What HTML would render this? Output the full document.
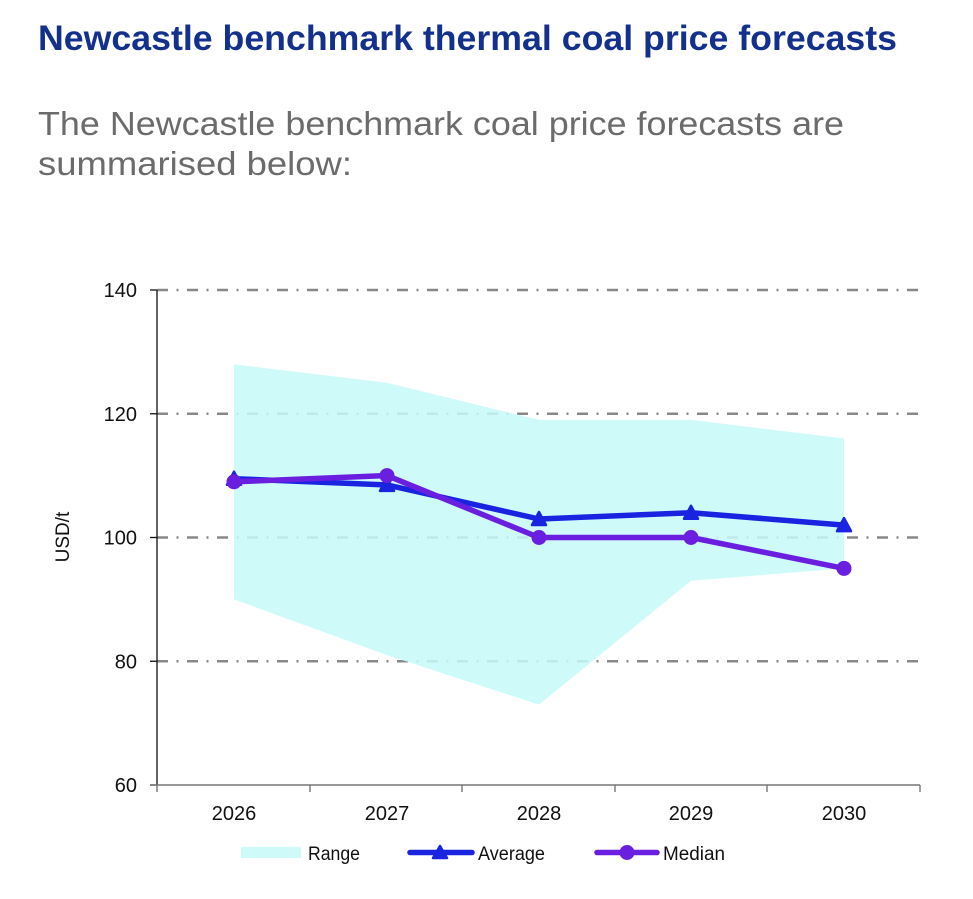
<!DOCTYPE html>
<html>
<head>
<meta charset="utf-8">
<style>
  html, body { margin: 0; padding: 0; background: #ffffff; }
  body { width: 973px; height: 899px; overflow: hidden; }
  svg { display: block; }
</style>
</head>
<body>
<svg width="973" height="899" viewBox="0 0 973 899" xmlns="http://www.w3.org/2000/svg" font-family="'Liberation Sans', Arial, sans-serif">
  <!-- Title -->
  <text x="38" y="50" font-size="35.5" font-weight="bold" fill="#13318c" textLength="859" lengthAdjust="spacingAndGlyphs">Newcastle benchmark thermal coal price forecasts</text>
  <!-- Subtitle -->
  <text x="38" y="135" font-size="33" fill="#6b6b6b" textLength="806" lengthAdjust="spacingAndGlyphs">The Newcastle benchmark coal price forecasts are</text>
  <text x="38" y="175" font-size="33" fill="#6b6b6b" textLength="314" lengthAdjust="spacingAndGlyphs">summarised below:</text>

  <!-- Gridlines -->
  <g stroke="#888888" stroke-width="2.6" stroke-dasharray="11 8.5 2 8.5" fill="none">
    <line x1="157" y1="290" x2="920" y2="290"/>
    <line x1="157" y1="413.75" x2="920" y2="413.75"/>
    <line x1="157" y1="537.5" x2="920" y2="537.5"/>
    <line x1="157" y1="661.25" x2="920" y2="661.25"/>
  </g>

  <!-- Range area -->
  <polygon points="234,364.3 387,382.8 539,419.9 691,419.9 844,438.5 844,568.4 691,580.8 539,704.6 387,655.1 234,599.4"
           fill="rgb(199,249,249)" fill-opacity="0.86"/>

  <!-- Axes -->
  <line x1="157" y1="290" x2="157" y2="785" stroke="#111" stroke-width="1.3"/>
  <g stroke="#111" stroke-width="1.3">
    <line x1="150" y1="290" x2="157" y2="290"/>
    <line x1="150" y1="413.75" x2="157" y2="413.75"/>
    <line x1="150" y1="537.5" x2="157" y2="537.5"/>
    <line x1="150" y1="661.25" x2="157" y2="661.25"/>
    <line x1="150" y1="785" x2="157" y2="785"/>
  </g>
  <line x1="150" y1="785" x2="920" y2="785" stroke="#777" stroke-width="1.6"/>
  <g stroke="#777" stroke-width="1.4">
    <line x1="157" y1="785" x2="157" y2="792"/>
    <line x1="310" y1="785" x2="310" y2="792"/>
    <line x1="462" y1="785" x2="462" y2="792"/>
    <line x1="615" y1="785" x2="615" y2="792"/>
    <line x1="767" y1="785" x2="767" y2="792"/>
    <line x1="920" y1="785" x2="920" y2="792"/>
  </g>

  <!-- Y tick labels -->
  <g font-size="20" fill="#111" text-anchor="end">
    <text x="137" y="297">140</text>
    <text x="137" y="420.75">120</text>
    <text x="137" y="544.5">100</text>
    <text x="137" y="668.25">80</text>
    <text x="137" y="792">60</text>
  </g>
  <!-- Y axis title -->
  <text transform="translate(69,537) rotate(-90)" font-size="19" fill="#111" text-anchor="middle">USD/t</text>

  <!-- X tick labels -->
  <g font-size="20" fill="#111" text-anchor="middle">
    <text x="234" y="820">2026</text>
    <text x="387" y="820">2027</text>
    <text x="539" y="820">2028</text>
    <text x="691" y="820">2029</text>
    <text x="844" y="820">2030</text>
  </g>

  <!-- Average series -->
  <polyline points="234,478.7 387,484.9 539,519.0 691,512.75 844,525.1" fill="none" stroke="#1a24e0" stroke-width="5.5" stroke-linejoin="round" stroke-linecap="round"/>
  <g fill="#1a24e0" stroke="#1a24e0" stroke-width="2.5" stroke-linejoin="round">
    <polygon points="234,471.7 241,484.7 227,484.7"/>
    <polygon points="387,477.9 394,490.9 380,490.9"/>
    <polygon points="539,512 546,525 532,525"/>
    <polygon points="691,505.75 698,518.75 684,518.75"/>
    <polygon points="844,518.1 851,531.1 837,531.1"/>
  </g>

  <!-- Median series -->
  <polyline points="234,481.8 387,475.6 539,537.5 691,537.5 844,568.4" fill="none" stroke="#6a1fe0" stroke-width="5.5" stroke-linejoin="round" stroke-linecap="round"/>
  <g fill="#6a1fe0">
    <circle cx="234" cy="481.8" r="7.5"/>
    <circle cx="387" cy="475.6" r="7.5"/>
    <circle cx="539" cy="537.5" r="7.5"/>
    <circle cx="691" cy="537.5" r="7.5"/>
    <circle cx="844" cy="568.4" r="7.5"/>
  </g>

  <!-- Legend -->
  <rect x="241" y="847" width="60" height="11" fill="rgb(207,250,250)"/>
  <text x="308" y="860" font-size="19" fill="#111" textLength="52" lengthAdjust="spacingAndGlyphs">Range</text>

  <line x1="410" y1="852.5" x2="472" y2="852.5" stroke="#1a24e0" stroke-width="5.5" stroke-linecap="round"/>
  <polygon points="440,846 447,858 433,858" fill="#1a24e0" stroke="#1a24e0" stroke-width="2.5" stroke-linejoin="round"/>
  <text x="478" y="860" font-size="19" fill="#111" textLength="67" lengthAdjust="spacingAndGlyphs">Average</text>

  <line x1="597" y1="852.5" x2="657" y2="852.5" stroke="#6a1fe0" stroke-width="5.5" stroke-linecap="round"/>
  <circle cx="627" cy="852.5" r="7.5" fill="#6a1fe0"/>
  <text x="663" y="860" font-size="19" fill="#111" textLength="62" lengthAdjust="spacingAndGlyphs">Median</text>
</svg>
</body>
</html>
